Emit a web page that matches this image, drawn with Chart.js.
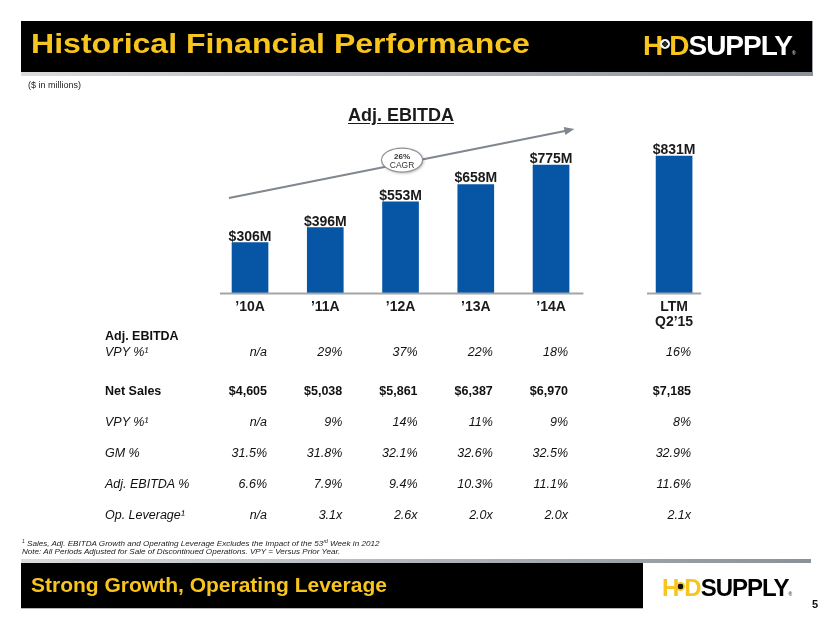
<!DOCTYPE html>
<html>
<head>
<meta charset="utf-8">
<script src="https://cdn.jsdelivr.net/npm/chart.js@4/dist/chart.umd.min.js"></script>
<style>
  body{margin:0;background:#fff;font-family:"Liberation Sans",Arial,Helvetica,sans-serif;}
  #wrap{position:relative;width:830px;height:623px;overflow:hidden;background:#fff;}
  #c{position:absolute;left:0;top:0;}
  .abs{position:absolute;white-space:nowrap;}
  #hdr{left:21px;top:21px;width:791px;height:51px;background:#000;box-shadow:1px 0 0 #9ba1a7;}
  #hdrline{left:21px;top:72px;width:792px;height:4px;background:linear-gradient(to right,#d9dbdd,#8b9198);}
  #title{left:31px;top:30px;font-size:28px;line-height:28px;font-weight:bold;color:#F8C41E;transform:scaleX(1.145);transform-origin:0 0;}
  .logo{font-weight:bold;letter-spacing:-1px;}
  .logo .y{color:#F8C41E;}
  .logo .dot{display:inline-block;border-radius:50%;vertical-align:baseline;}
  .logo .r{font-size:5px;letter-spacing:0;}
  #logo1{left:643px;top:32px;font-size:28px;line-height:28px;}
  #logo1 .w{color:#fff;}
  #logo1 .dot{width:10px;height:10px;margin:0 -1px 0 -2px;position:relative;top:-6px;background:radial-gradient(circle,#2a2a2a 0 36%,#f2f2f2 42% 100%);}
  #logo1 .r{color:#ccc;}
  #logo2{left:662px;top:576px;font-size:24px;line-height:24px;}
  #logo2 .w{color:#000;}
  #logo2 .dot{width:9px;height:9px;margin:0 -1px 0 -2px;position:relative;top:-5px;background:radial-gradient(circle,#111 0 42%,#F8C41E 48% 100%);}
  #logo2 .r{color:#444;}
  #units{left:28px;top:81px;font-size:9px;line-height:9px;color:#222;}
  #ctitle{left:348px;top:106px;font-size:18px;line-height:18px;font-weight:bold;color:#1a1a1a;text-decoration:underline;text-underline-offset:2px;}
  .cell{font-size:12.5px;line-height:12.5px;color:#111;}
  .b{font-weight:bold;}
  .i{font-style:italic;}
  .val{transform:translateX(-100%);}
  .fn{left:22px;font-size:8.1px;line-height:8px;font-style:italic;color:#222;}
  .fn sup{font-size:5px;vertical-align:3px;line-height:0;}
  #ftline{left:21px;top:559px;width:790px;height:4px;background:linear-gradient(to right,#d9dbdd,#8b9198);}
  #ftbar{left:21px;top:563px;width:622px;height:45px;background:#000;border-bottom:1px solid #b5b8bb;}
  #fttext{left:31px;top:574px;font-size:21px;line-height:21px;font-weight:bold;color:#F8C41E;}
  #page{left:812px;top:599px;font-size:11px;line-height:11px;font-weight:bold;color:#111;}
</style>
</head>
<body>
<div id="wrap">
  <canvas id="c" width="830" height="623"></canvas>
  <div class="abs" id="hdr"></div>
  <div class="abs" id="hdrline"></div>
  <div class="abs" id="title">Historical Financial Performance</div>
  <div class="abs logo" id="logo1"><span class="y">H</span><span class="dot"></span><span class="y">D</span><span class="w">SUPPLY</span><span class="r">®</span></div>
  <div class="abs" id="units">($ in millions)</div>
  <div class="abs" id="ctitle">Adj. EBITDA</div>
  <div id="table"></div>
  <div class="abs fn" style="top:540px;"><sup>1</sup> Sales, Adj. EBITDA Growth and Operating Leverage Excludes the Impact of the 53<sup>rd</sup> Week in 2012</div>
  <div class="abs fn" style="top:548px;">Note: All Periods Adjusted for Sale of Discontinued Operations. VPY = Versus Prior Year.</div>
  <div class="abs" id="ftline"></div>
  <div class="abs" id="ftbar"></div>
  <div class="abs" id="fttext">Strong Growth, Operating Leverage</div>
  <div class="abs logo" id="logo2"><span class="y">H</span><span class="dot"></span><span class="y">D</span><span class="w">SUPPLY</span><span class="r">®</span></div>
  <div class="abs" id="page">5</div>
</div>
<script>
// ---- data ----
const categories = ['\u201910A', '\u201911A', '\u201912A', '\u201913A', '\u201914A', ['LTM', 'Q2\u201915']];
const ebitda = [306, 396, 553, 658, 775, 831];
const valueLabels = ['$306M', '$396M', '$553M', '$658M', '$775M', '$831M'];
const cagrLabel = ['26%', 'CAGR'];

const rowLabels = ['Adj. EBITDA', 'VPY %\u00B9', 'Net Sales', 'VPY %\u00B9', 'GM %', 'Adj. EBITDA %', 'Op. Leverage\u00B9'];
const ebitdaVpy = ['n/a', '29%', '37%', '22%', '18%', '16%'];
const netSales = ['$4,605', '$5,038', '$5,861', '$6,387', '$6,970', '$7,185'];
const salesVpy = ['n/a', '9%', '14%', '11%', '9%', '8%'];
const gmPct = ['31.5%', '31.8%', '32.1%', '32.6%', '32.5%', '32.9%'];
const ebitdaPct = ['6.6%', '7.9%', '9.4%', '10.3%', '11.1%', '11.6%'];
const opLeverage = ['n/a', '3.1x', '2.6x', '2.0x', '2.0x', '2.1x'];

// ---- layout helpers ----
const LTM_GAP = 0.635;
const xPos = i => i + (i >= 5 ? LTM_GAP : 0);
const FONT = '"Liberation Sans", Arial, sans-serif';

const decoPlugin = {
  id: 'deco',
  afterDatasetsDraw(chart) {
    const ctx = chart.ctx, xs = chart.scales.x, ys = chart.scales.y;
    const y0 = ys.getPixelForValue(0);
    ctx.save();
    // baseline segments
    ctx.strokeStyle = '#a3a6a9';
    ctx.lineWidth = 2;
    ctx.beginPath();
    ctx.moveTo(xs.getPixelForValue(-0.4), y0 + 0.5);
    ctx.lineTo(xs.getPixelForValue(4.43), y0 + 0.5);
    ctx.moveTo(xs.getPixelForValue(xPos(5) - 0.36), y0 + 0.5);
    ctx.lineTo(xs.getPixelForValue(xPos(5) + 0.36), y0 + 0.5);
    ctx.stroke();

    // value and category labels
    const meta = chart.getDatasetMeta(0);
    ctx.fillStyle = '#1a1a1a';
    ctx.font = 'bold 14px ' + FONT;
    ctx.textAlign = 'center';
    ctx.textBaseline = 'alphabetic';
    meta.data.forEach((bar, i) => {
      ctx.fillText(valueLabels[i], bar.x, bar.y - 2);
      const lines = Array.isArray(categories[i]) ? categories[i] : [categories[i]];
      lines.forEach((t, k) => ctx.fillText(t, bar.x, y0 + 18 + k * 15));
    });

    // CAGR arrow
    const ax1 = xs.getPixelForValue(-0.28), ay1 = ys.getPixelForValue(576);
    const ax2 = xs.getPixelForValue(4.31), ay2 = ys.getPixelForValue(994);
    const ang = Math.atan2(ay2 - ay1, ax2 - ax1);
    ctx.strokeStyle = '#80878e';
    ctx.fillStyle = '#80878e';
    ctx.lineWidth = 2;
    ctx.beginPath();
    ctx.moveTo(ax1, ay1);
    ctx.lineTo(ax2 - 7 * Math.cos(ang), ay2 - 7 * Math.sin(ang));
    ctx.stroke();
    ctx.beginPath();
    ctx.moveTo(ax2, ay2);
    ctx.lineTo(ax2 - 10 * Math.cos(ang) + 4 * Math.sin(ang), ay2 - 10 * Math.sin(ang) - 4 * Math.cos(ang));
    ctx.lineTo(ax2 - 10 * Math.cos(ang) - 4 * Math.sin(ang), ay2 - 10 * Math.sin(ang) + 4 * Math.cos(ang));
    ctx.closePath();
    ctx.fill();

    // CAGR bubble
    const ex = xs.getPixelForValue(2.02), ey = ys.getPixelForValue(806);
    ctx.save();
    ctx.shadowColor = 'rgba(0,0,0,0.35)';
    ctx.shadowBlur = 3;
    ctx.shadowOffsetX = 1;
    ctx.shadowOffsetY = 1;
    ctx.beginPath();
    ctx.ellipse(ex, ey, 20.5, 12, 0, 0, Math.PI * 2);
    ctx.fillStyle = '#ffffff';
    ctx.fill();
    ctx.restore();
    ctx.beginPath();
    ctx.ellipse(ex, ey, 20.5, 12, 0, 0, Math.PI * 2);
    ctx.strokeStyle = '#8e9297';
    ctx.lineWidth = 1.2;
    ctx.stroke();
    ctx.fillStyle = '#333';
    ctx.font = 'bold 8px ' + FONT;
    ctx.fillText(cagrLabel[0], ex, ey - 1);
    ctx.font = '8.5px ' + FONT;
    ctx.fillText(cagrLabel[1], ex, ey + 8);
    ctx.restore();
  }
};

const chart = new Chart(document.getElementById('c'), {
  type: 'bar',
  data: {
    datasets: [{
      data: ebitda.map((v, i) => ({ x: xPos(i), y: v })),
      backgroundColor: '#0756a6',
      borderWidth: 0,
      barThickness: 36
    }]
  },
  options: {
    responsive: false,
    animation: false,
    events: [],
    layout: { padding: { left: 212.4, right: 113.4, top: 128.1, bottom: 330 } },
    scales: {
      x: { type: 'linear', min: -0.5, max: 6.2, offset: false, display: false },
      y: { type: 'linear', min: 0, max: 1000, display: false }
    },
    plugins: { legend: { display: false }, tooltip: { enabled: false } }
  },
  plugins: [decoPlugin]
});

// ---- table, aligned to the chart's x scale ----
const rowValues = [null, ebitdaVpy, netSales, salesVpy, gmPct, ebitdaPct, opLeverage];
const rowBaselines = [341, 357, 396, 427, 458, 489, 520];
const rowBold = [true, false, true, false, false, false, false];
const table = document.getElementById('table');
const xs = chart.scales.x;
rowLabels.forEach((lab, r) => {
  const top = rowBaselines[r] - 10.6;
  const cls = 'abs cell ' + (rowBold[r] ? 'b' : 'i');
  const d = document.createElement('div');
  d.className = cls;
  d.style.left = '105px';
  d.style.top = top + 'px';
  d.textContent = lab;
  table.appendChild(d);
  if (rowValues[r]) {
    rowValues[r].forEach((v, i) => {
      const e = document.createElement('div');
      e.className = cls + ' val';
      e.style.left = (xs.getPixelForValue(xPos(i)) + 17) + 'px';
      e.style.top = top + 'px';
      e.textContent = v;
      table.appendChild(e);
    });
  }
});
</script>
</body>
</html>
